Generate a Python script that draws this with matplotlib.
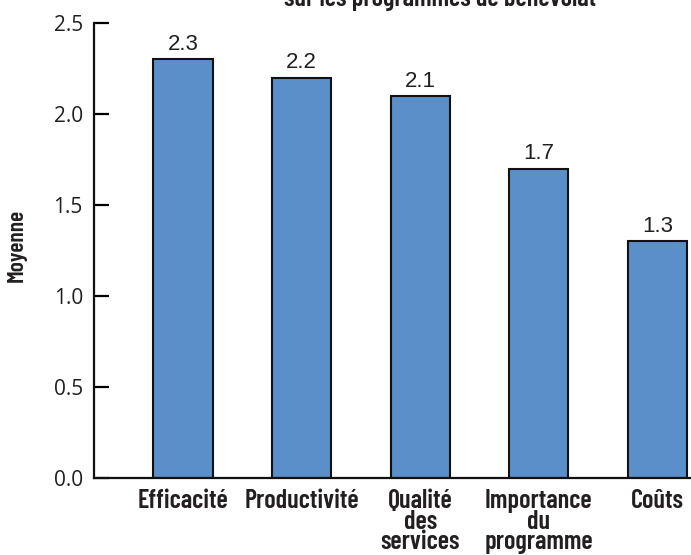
import matplotlib.pyplot as plt
import numpy as np

# Moyennes par dimension
categories = ["Efficacité", "Productivité", "Qualité\ndes\nservices",
              "Importance\ndu\nprogramme", "Coûts"]
moyennes = [2.3, 2.2, 2.1, 1.7, 1.3]
yticks = [0.0, 0.5, 1.0, 1.5, 2.0, 2.5]

narrow = ["Barlow Condensed", "Roboto Condensed", "DejaVu Sans"]
txt_color = "#231f20"

fig = plt.figure(figsize=(6.91, 5.55), dpi=100)
ax = fig.add_axes([94 / 691, 77 / 555, 597 / 691, 455 / 555])

x = np.arange(len(categories))
bars = ax.bar(x, moyennes, width=0.5, color="#5b8fc9",
              edgecolor="#111111", linewidth=1.5, zorder=2)

for xi, v in zip(x, moyennes):
    ax.annotate(f"{v:.1f}", (xi, v), xytext=(0, 3), textcoords="offset points",
                ha="center", va="bottom", fontsize=16,
                family=["Liberation Sans", "DejaVu Sans"], color=txt_color)

ax.set_xlim(-0.751, 4.283)
ax.set_ylim(0, 2.5)
ax.set_yticks(yticks)
ax.set_yticklabels([f"{t:.1f}" for t in yticks], fontsize=15,
                   family=["Open Sans", "DejaVu Sans"], color=txt_color)
ax.tick_params(axis="y", direction="in", length=11, width=1.6, pad=8)
ax.tick_params(axis="x", length=0, pad=8)
ax.set_xticks(x)
ax.set_xticklabels(categories, fontsize=19, family=narrow, color=txt_color,
                   fontweight="semibold", linespacing=0.82, va="top")

for side in ("top", "right"):
    ax.spines[side].set_visible(False)
for side in ("left", "bottom"):
    ax.spines[side].set_linewidth(1.6)
    ax.spines[side].set_color("#111111")

fig.text(17 / 691, 1 - 245 / 555, "Moyenne", rotation=90, ha="center",
         va="center", fontsize=17, family=narrow, fontweight="semibold",
         color=txt_color)

fig.text(440 / 691, 1 - 6 / 555, "sur les programmes de bénévolat",
         ha="center", va="baseline", fontsize=19, family=narrow,
         fontweight="semibold", color=txt_color)

fig.savefig("out.png", dpi=100)
